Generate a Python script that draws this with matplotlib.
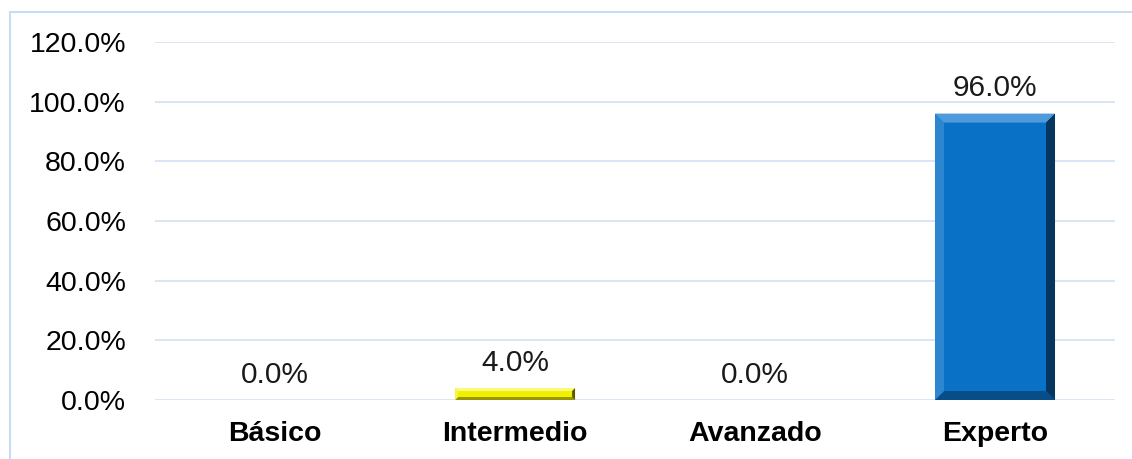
import matplotlib.pyplot as plt
from matplotlib.patches import Polygon, Rectangle
from matplotlib.ticker import PercentFormatter

categories = ["Básico", "Intermedio", "Avanzado", "Experto"]
values = [0.0, 4.0, 0.0, 96.0]
bar_colors = ["#0A72C6", "#F2F000", "#0A72C6", "#0A72C6"]
light_colors = ["#4E9ADB", "#FAFA80", "#4E9ADB", "#4E9ADB"]
dark_colors = ["#06355E", "#5A5A00", "#06355E", "#06355E"]

plt.rcParams["font.family"] = ["Liberation Sans", "DejaVu Sans"]

fig = plt.figure(figsize=(11.32, 4.59), dpi=100)
ax = fig.add_axes([0.137, 0.1285, 0.848, 0.78])

# chart frame (right/bottom edges run off the picture)
fig.patches.append(Rectangle((0.0088, -0.1), 1.2, 1.074, transform=fig.transFigure,
                             fill=False, edgecolor="#C9DDF2", linewidth=1.5))

x = range(len(categories))
bars = ax.bar(x, values, width=0.5, color=bar_colors, zorder=3)

ax.set_ylim(0, 120)
ax.set_xlim(-0.5, 3.5)
ax.set_yticks(range(0, 121, 20))
ax.yaxis.set_major_formatter(PercentFormatter(decimals=1))
ax.grid(axis="y", color="#D3E2F3", linewidth=1.2, zorder=0)
for s in ax.spines.values():
    s.set_visible(False)
ax.tick_params(axis="y", length=0, pad=21, labelsize=20.5)
ax.tick_params(axis="x", length=0, pad=15, labelsize=20.5)
ax.set_xticks(list(x), categories)
for t in ax.get_xticklabels():
    t.set_fontweight("bold")

fig.canvas.draw()
inv = ax.transData.inverted()
for b, lc, dc in zip(bars, light_colors, dark_colors):
    if b.get_height() <= 0:
        continue
    x0, y0 = b.get_x(), b.get_y()
    x1, y1 = x0 + b.get_width(), y0 + b.get_height()
    p0 = ax.transData.transform((x0, y0))
    p1 = ax.transData.transform((x1, y1))
    bev = min(9, (p1[1] - p0[1]) / 4)
    q0 = inv.transform((p0[0] + bev, p0[1] + bev))
    q1 = inv.transform((p1[0] - bev, p1[1] - bev))
    ix0, iy0 = q0
    ix1, iy1 = q1
    ax.add_patch(Polygon([(x0, y1), (x1, y1), (ix1, iy1), (ix0, iy1)], color=lc, zorder=4, lw=0))
    ax.add_patch(Polygon([(x1, y1), (x1, y0), (ix1, iy0), (ix1, iy1)], color=dc, zorder=4, lw=0))
    ax.add_patch(Polygon([(x0, y0), (x1, y0), (ix1, iy0), (ix0, iy0)], color=dc, alpha=0.6, zorder=4, lw=0))
    ax.add_patch(Polygon([(x0, y0), (x0, y1), (ix0, iy1), (ix0, iy0)], color=lc, alpha=0.5, zorder=4, lw=0))

for i, v in enumerate(values):
    ax.annotate(f"{v:.1f}%", (i, v), xytext=(0, 8), textcoords="offset points",
                ha="center", va="bottom", fontsize=21.5, color="#1A1A1A")

fig.savefig("out.png", dpi=100)
